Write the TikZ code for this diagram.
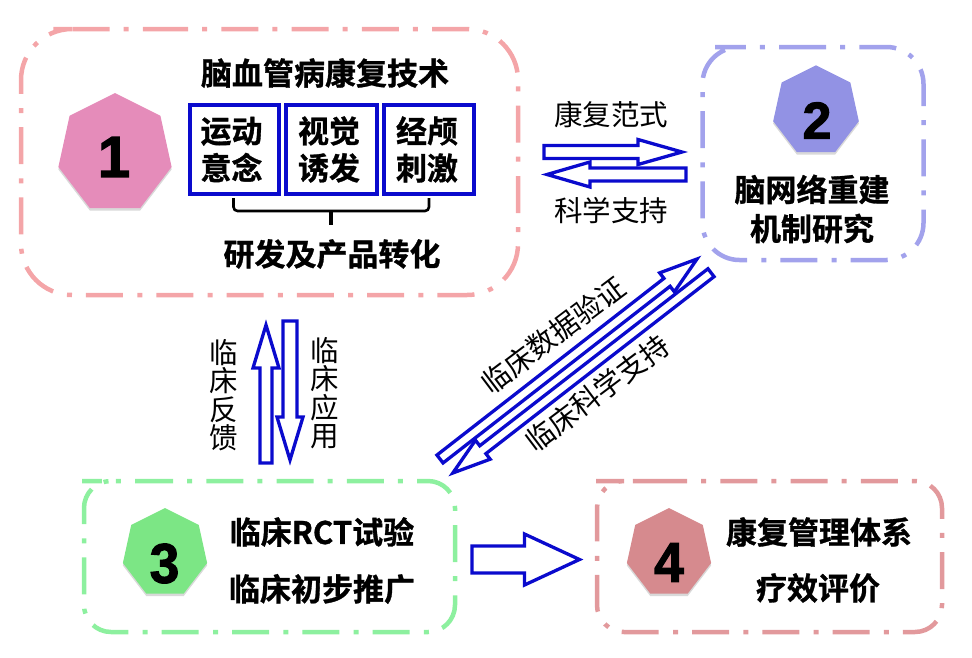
\documentclass[tikz,border=0pt]{standalone}
\usepackage{fontspec}
\setmainfont{Liberation Sans}[BoldFeatures={FakeBold=2}]
\newfontfamily\cjk{Noto Sans CJK SC}
\newfontfamily\cjkb{Noto Sans CJK SC Bold}[FakeBold=1]
\usetikzlibrary{shapes.geometric,shadows,calc}
\definecolor{cbox1}{HTML}{F4A5A8}
\definecolor{cbox2}{HTML}{A2A2EC}
\definecolor{cbox3}{HTML}{8DF09F}
\definecolor{cbox4}{HTML}{E2999C}
\definecolor{chep1}{HTML}{E58CBA}
\definecolor{chep2}{HTML}{9292E4}
\definecolor{chep3}{HTML}{7CE685}
\definecolor{chep4}{HTML}{D68A8E}
\definecolor{arrowblue}{HTML}{0A0ACD}
\tikzset{
  groupbox/.style={rectangle,inner sep=0pt,outer sep=0pt},
  groupline/.style={draw=#1,line width=4.5pt,dash pattern=on 37pt off 14pt on 5pt off 14.3pt},
  hept/.style={regular polygon,regular polygon sides=7,fill=#1,inner sep=0pt,outer sep=0pt,
    xscale=0.96,transform shape,
    drop shadow={opacity=0.3,shadow xshift=0pt,shadow yshift=-2.5pt}},
  numlabel/.style={font=\fontsize{#1}{#1}\selectfont\bfseries,inner sep=0pt},
  boldlabel/.style={font=\fontsize{31}{#1}\selectfont\cjkb,inner sep=0pt,align=center},
  thinlabel/.style={font=\fontsize{28.5}{#1}\selectfont\cjk,inner sep=0pt,align=center},
  techbox/.style={rectangle,draw=arrowblue,line width=3.4pt,minimum height=89pt,inner sep=0pt,outer sep=0pt,
    font=\fontsize{31}{37}\selectfont\cjkb,align=center},
  blockline/.style={draw=arrowblue,fill=white,line width=3.3pt,line join=miter}
}
% #1 tail, #2 tip, #3 shaft half-width, #4 head length, #5 head half-width
\newcommand\blockarrow[5]{%
  \coordinate (hb) at ($(#2)!#4pt!(#1)$);
  \draw[blockline] ($(#1)!#3pt!90:(#2)$) -- ($(hb)!#3pt!90:(#2)$) -- ($(hb)!#5pt!90:(#2)$) -- (#2)
    -- ($(hb)!#5pt!-90:(#2)$) -- ($(hb)!#3pt!-90:(#2)$) -- ($(#1)!#3pt!-90:(#2)$) -- cycle;
}
% #1 box node, #2 colour, #3 corner radius, #4 x of the first dash on the top edge
\newcommand\groupoutline[4]{%
  \draw[groupline=#2,rounded corners=#3pt] (#4,0|-#1.north) -- (#1.north east) -- (#1.south east)
    -- (#1.south west) -- (#1.north west) -- cycle;
}
\begin{document}
\begin{tikzpicture}[x=1pt,y=-1pt]
\useasboundingbox (0,0) rectangle (972,657);
% group boxes
\node[groupbox,minimum width=497pt,minimum height=266pt] (box1) at (269.5,162) {};
\node[groupbox,minimum width=221pt,minimum height=213pt] (box2) at (813,153.5) {};
\node[groupbox,minimum width=371pt,minimum height=151pt] (box3) at (269.5,556.5) {};
\node[groupbox,minimum width=345pt,minimum height=151pt] (box4) at (769.5,556.5) {};
\groupoutline{box1}{cbox1}{51}{100}
\groupoutline{box2}{cbox2}{37}{752}
\groupoutline{box3}{cbox3}{27}{109}
\groupoutline{box4}{cbox4}{27}{623}
% heptagons
\node[hept=chep1,minimum size=121pt] (h1) at (115,153.5) {};
\node[hept=chep2,minimum size=91.5pt] (h2) at (816,111) {};
\node[hept=chep3,minimum size=90pt] (h3) at (165,553) {};
\node[hept=chep4,minimum size=90pt] (h4) at (669,553) {};
\node[numlabel=58] (n1) at (114,157) {1};
\node[numlabel=52] (n2) at (817,120.5) {2};
\node[numlabel=56,xscale=0.95] (n3) at (164.5,563.5) {3};
\node[numlabel=56,xscale=0.95] (n4) at (669,562.5) {4};
% box 1 content
\node[boldlabel=31] (title) at (325,73) {脑血管病康复技术};
\node[techbox,minimum width=89pt] (t1) at (234.5,149.5) {运动\hspace*{6pt}\\意念\hspace*{6pt}};
\node[techbox,minimum width=91pt] (t2) at (331.5,149.5) {视觉\hspace*{5pt}\\诱发\hspace*{5pt}};
\node[techbox,minimum width=90pt] (t3) at (429,149.5) {经颅\hspace*{4pt}\\刺激\hspace*{4pt}};
\coordinate (bl) at (233.5,198);
\coordinate (br) at (429,198);
\coordinate (bm) at (331,225);
\draw[black,line width=2.6pt,rounded corners=4pt] (bl) -- (bl|-0,211) -- (br|-0,211) -- (br);
\draw[black,line width=3.2pt] (bm|-0,211) -- (bm);
\node[boldlabel=31] (prod) at (332,254) {研发及产品转化};
% box 2 content
\node[boldlabel=39] (brain) at (812,209) {脑网络重建\\机制研究};
% box 3 / 4 content
\node[boldlabel=31] (rct) at (322,532) {临床RCT试验};
\node[boldlabel=31] (tui) at (322,589) {临床初步推广};
\node[boldlabel=31] (mgmt) at (819,532) {康复管理体系};
\node[boldlabel=31] (eval) at (818,588) {疗效评价};
% arrows
\coordinate (a1t) at (544,152); \coordinate (a1h) at (682,152);
\coordinate (a2t) at (686,174.5); \coordinate (a2h) at (547,174.5);
\coordinate (a3t) at (266,463); \coordinate (a3h) at (266,325);
\coordinate (a4t) at (290,321); \coordinate (a4h) at (290,460);
\coordinate (a5t) at (440,459); \coordinate (a5h) at (697,259);
\coordinate (a6t) at (711,272.7); \coordinate (a6h) at (452.8,473);
\coordinate (a7t) at (472,559.5); \coordinate (a7h) at (579.5,559.5);
\blockarrow{a1t}{a1h}{6.5}{44}{12.5}
\blockarrow{a2t}{a2h}{6.5}{43}{12.5}
\blockarrow{a3t}{a3h}{6}{43}{13}
\blockarrow{a4t}{a4h}{7}{43}{13}
\blockarrow{a5t}{a5h}{5}{38}{12}
\blockarrow{a6t}{a6h}{5}{38}{12}
\blockarrow{a7t}{a7h}{13.5}{55}{25.5}
% arrow labels
\node[thinlabel=28] (l1) at (611,115) {康复范式};
\node[thinlabel=28] (l2) at (611,211) {科学支持};
\node[thinlabel=28.5] (l3) at (224,395) {临\\床\\反\\馈};
\node[thinlabel=28.5] (l4) at (325,393) {临\\床\\应\\用};
\node[thinlabel=28,rotate=37] (l5) at (553,335) {临床数据验证};
\node[thinlabel=28,rotate=37] (l6) at (597,393) {临床科学支持};
\end{tikzpicture}
\end{document}
